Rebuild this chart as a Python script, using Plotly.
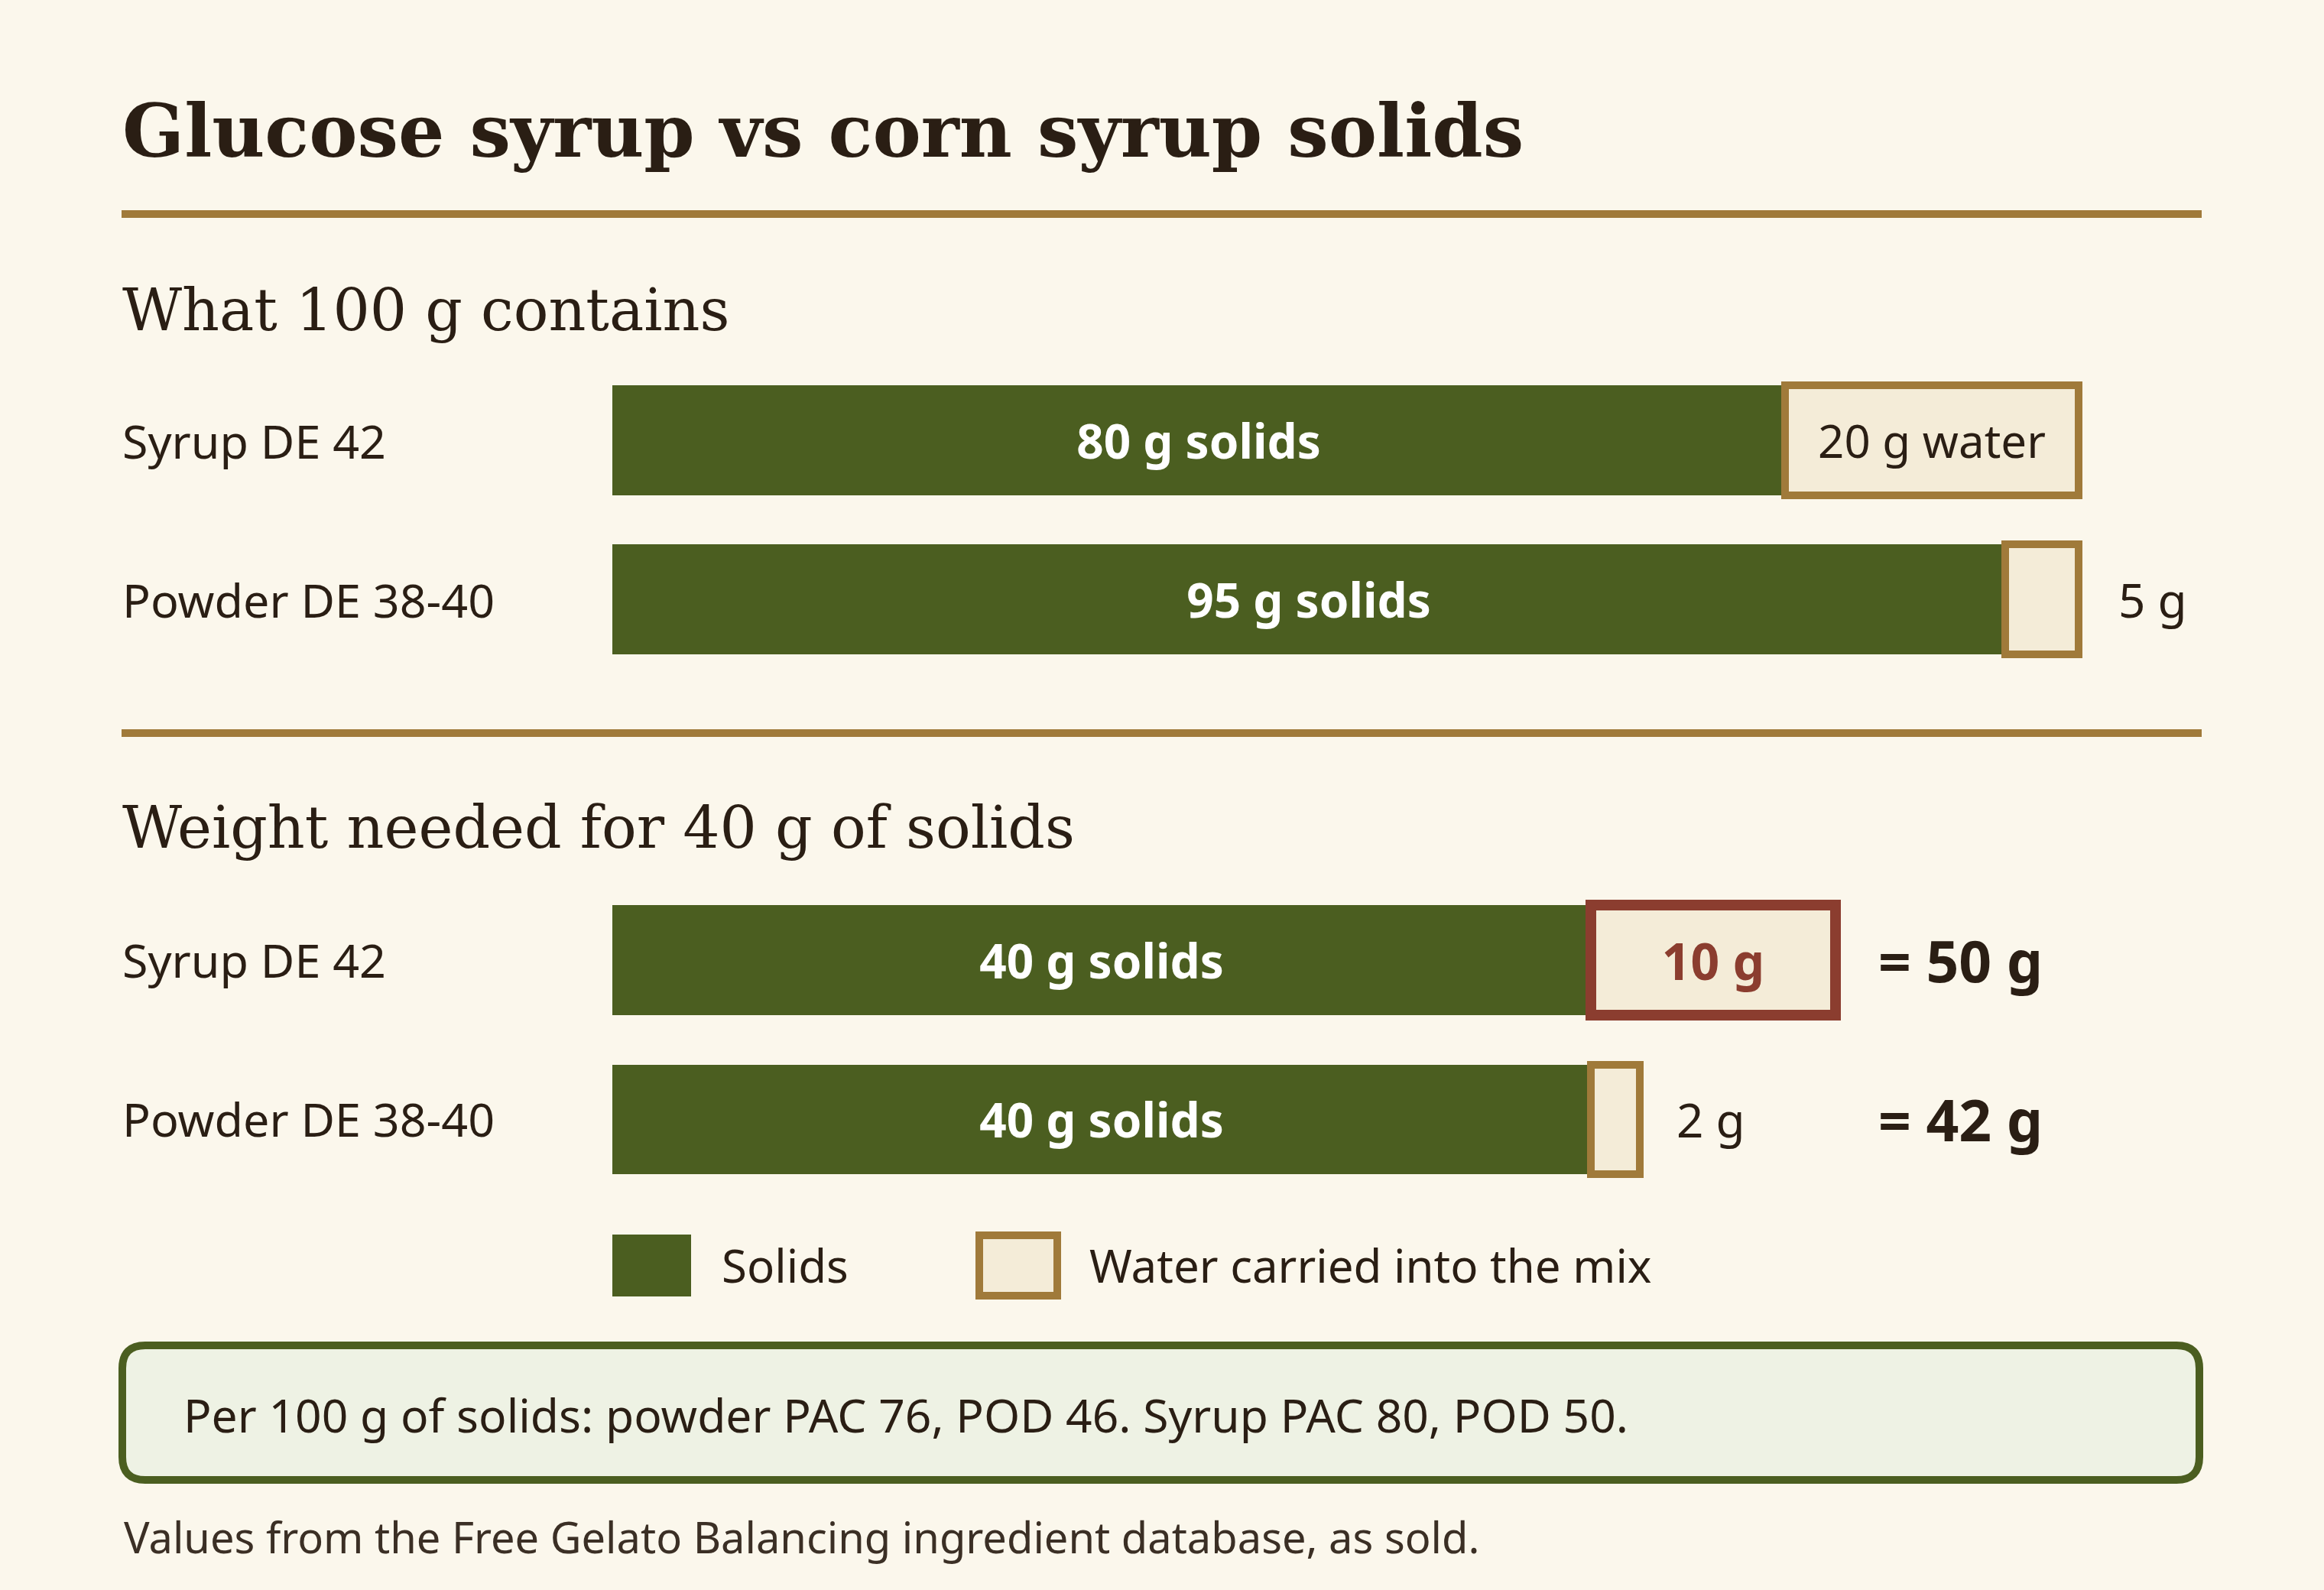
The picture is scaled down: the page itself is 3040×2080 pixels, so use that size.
import plotly.graph_objects as go

W, H = 3040, 2080

# data
rows = ["Syrup DE 42", "Powder DE 38-40"]
per100_solids = [80, 95]
per100_water = [20, 5]
need_solids = [40, 40]
need_water = [10, 2]
need_total = [50, 42]

title = "Glucose syrup vs corn syrup solids"
head_top = "What 100 g contains"
head_bottom = "Weight needed for 40 g of solids"
legend_names = ["Solids", "Water carried into the mix"]
note = "Per 100 g of solids: powder PAC 76, POD 46. Syrup PAC 80, POD 50."
footer = "Values from the Free Gelato Balancing ingredient database, as sold."

BG = "#FBF7EC"
INK = "#2A1E14"
GREEN = "#4B5E20"
GOLD = "#A07A3A"
WATER = "#F4ECD8"
RUST = "#8B3D2F"
NOTE_BG = "#EEF2E4"
SERIF = "DejaVu Serif"
SANS = "Noto Sans"


def py(y):
    return 1 - y / H


def px(x):
    return x / W


X0 = 801        # pixel of 0 g
K_TOP = 19.18   # pixels per gram, top panel
K_BOT = 32.0    # pixels per gram, bottom panel

fig = go.Figure()

# top panel
fig.add_bar(y=rows, x=per100_solids, orientation="h", xaxis="x", yaxis="y",
            marker=dict(color=GREEN, line=dict(width=0)), width=0.69,
            text=[f"{v} g solids" for v in per100_solids], textposition="inside",
            insidetextanchor="middle", constraintext="none",
            insidetextfont=dict(family=SANS, size=62, color="white", weight="bold"),
            hoverinfo="skip", showlegend=False)
fig.add_bar(y=rows, x=per100_water, orientation="h", xaxis="x", yaxis="y",
            marker=dict(color=WATER, line=dict(color=GOLD, width=10)), width=0.69,
            text=[f"{v} g water" if v >= 10 else "" for v in per100_water],
            textposition="inside", insidetextanchor="middle", constraintext="none",
            insidetextfont=dict(family=SANS, size=60, color=INK),
            hoverinfo="skip", showlegend=False)

# bottom panel
fig.add_bar(y=rows, x=need_solids, orientation="h", xaxis="x2", yaxis="y2",
            marker=dict(color=GREEN, line=dict(width=0)), width=0.69,
            text=[f"{v} g solids" for v in need_solids], textposition="inside",
            insidetextanchor="middle", constraintext="none",
            insidetextfont=dict(family=SANS, size=62, color="white", weight="bold"),
            hoverinfo="skip", showlegend=False)
fig.add_bar(y=rows, x=need_water, orientation="h", xaxis="x2", yaxis="y2",
            marker=dict(color=WATER, line=dict(color=[RUST, GOLD], width=[14, 10])), width=0.69,
            text=[f"{v} g" if v >= 5 else "" for v in need_water],
            textposition="inside", insidetextanchor="middle", constraintext="none",
            insidetextfont=dict(family=SANS, size=66, color=RUST, weight="bold"),
            hoverinfo="skip", showlegend=False)

ann = []
# row labels
for yref in ["y", "y2"]:
    for r in rows:
        ann.append(dict(x=px(158), xref="paper", y=r, yref=yref, text=r, xanchor="left",
                        yanchor="middle", showarrow=False,
                        font=dict(family=SANS, size=61, color=INK)))
# small water labels outside the bar
for r, s, w in zip(rows, per100_solids, per100_water):
    if w < 10:
        ann.append(dict(x=s + w, xref="x", y=r, yref="y", text=f"{w} g", xanchor="left",
                        xshift=50, showarrow=False, font=dict(family=SANS, size=62, color=INK)))
for r, s, w in zip(rows, need_solids, need_water):
    if w < 5:
        ann.append(dict(x=s + w, xref="x2", y=r, yref="y2", text=f"{w} g", xanchor="left",
                        xshift=46, showarrow=False, font=dict(family=SANS, size=62, color=INK)))
# totals
for r, t in zip(rows, need_total):
    ann.append(dict(x=max(need_total), xref="x2", y=r, yref="y2", text=f"= {t} g",
                    xanchor="left", xshift=54, showarrow=False,
                    font=dict(family=SANS, size=75, color=INK, weight="bold")))

# headings
ann.append(dict(x=px(158), y=py(171), xref="paper", yref="paper", text=title, xanchor="left",
                yanchor="middle", showarrow=False,
                font=dict(family=SERIF, size=95, color=INK, weight="bold")))
ann.append(dict(x=px(158), y=py(406), xref="paper", yref="paper", text=head_top, xanchor="left",
                yanchor="middle", showarrow=False, font=dict(family=SERIF, size=76, color=INK)))
ann.append(dict(x=px(158), y=py(1082), xref="paper", yref="paper", text=head_bottom, xanchor="left",
                yanchor="middle", showarrow=False, font=dict(family=SERIF, size=76, color=INK)))

# legend
ann.append(dict(x=px(942), y=py(1655), xref="paper", yref="paper", text=legend_names[0],
                xanchor="left", yanchor="middle", showarrow=False,
                font=dict(family=SANS, size=60, color=INK)))
ann.append(dict(x=px(1423), y=py(1655), xref="paper", yref="paper", text=legend_names[1],
                xanchor="left", yanchor="middle", showarrow=False,
                font=dict(family=SANS, size=60, color=INK)))

# note and footer
ann.append(dict(x=px(238), y=py(1850), xref="paper", yref="paper", text=note,
                xanchor="left", yanchor="middle", showarrow=False,
                font=dict(family=SANS, size=60.5, color=INK)))
ann.append(dict(x=px(160), y=py(2010), xref="paper", yref="paper", text=footer,
                xanchor="left", yanchor="middle", showarrow=False,
                font=dict(family=SANS, size=56, color="#3B2F25")))

shapes = []
for yl in [280, 959]:
    shapes.append(dict(type="line", xref="paper", yref="paper", x0=px(159), x1=px(2880),
                       y0=py(yl), y1=py(yl), line=dict(color=GOLD, width=10)))
shapes.append(dict(type="rect", xref="paper", yref="paper", x0=px(801), x1=px(904),
                   y0=py(1696), y1=py(1615), fillcolor=GREEN, line=dict(width=0)))
shapes.append(dict(type="rect", xref="paper", yref="paper", x0=px(1281), x1=px(1383),
                   y0=py(1695), y1=py(1616), fillcolor=WATER, line=dict(color=GOLD, width=10)))

# rounded note box
l, r, t, b = px(160), px(2877), py(1760), py(1936)
rx, ry = px(30), 30 / H
path = (f"M {l + rx},{t} L {r - rx},{t} Q {r},{t} {r},{t - ry} L {r},{b + ry} "
        f"Q {r},{b} {r - rx},{b} L {l + rx},{b} Q {l},{b} {l},{b + ry} "
        f"L {l},{t - ry} Q {l},{t} {l + rx},{t} Z")
shapes.append(dict(type="path", xref="paper", yref="paper", path=path, fillcolor=NOTE_BG,
                   line=dict(color=GREEN, width=10), layer="below"))

fig.update_layout(
    width=W, height=H, margin=dict(l=0, r=0, t=0, b=0),
    paper_bgcolor=BG, plot_bgcolor="rgba(0,0,0,0)",
    barmode="stack", bargap=0, showlegend=False,
    annotations=ann, shapes=shapes,
    xaxis=dict(domain=[0, 1], range=[-X0 / K_TOP, (W - X0) / K_TOP], visible=False,
               fixedrange=True, anchor="y"),
    yaxis=dict(domain=[py(888), py(472)], type="category", categoryorder="array",
               categoryarray=rows, range=[1.5, -0.5], visible=False, fixedrange=True,
               anchor="x"),
    xaxis2=dict(domain=[0, 1], range=[-X0 / K_BOT, (W - X0) / K_BOT], visible=False,
                fixedrange=True, anchor="y2"),
    yaxis2=dict(domain=[py(1568), py(1151.5)], type="category", categoryorder="array",
                categoryarray=rows, range=[1.5, -0.5], visible=False, fixedrange=True,
                anchor="x2"),
)

fig.write_html("out.html", config={"displayModeBar": False},
               post_script="document.body.style.margin='0';document.body.style.background='" + BG + "';")
